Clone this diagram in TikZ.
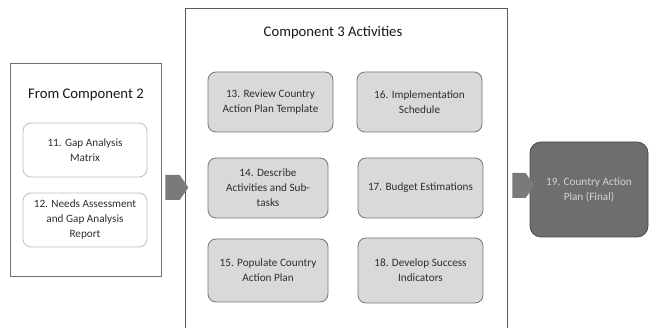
\documentclass[tikz,border=0pt]{standalone}
\usepackage{fontspec}
\setmainfont{Carlito}
\usetikzlibrary{shapes.symbols}
\definecolor{framec}{HTML}{6F6F6F}
\definecolor{midframec}{HTML}{595959}
\definecolor{lightfill}{HTML}{D9D9D9}
\definecolor{boxline}{HTML}{767676}
\definecolor{paleline}{HTML}{BFBFBF}
\definecolor{textc}{HTML}{2E2E2E}
\definecolor{arrowc}{HTML}{7A7A7A}
\definecolor{darkfill}{HTML}{6E6E6E}
\definecolor{darkline}{HTML}{4A4A4A}
\definecolor{lighttext}{HTML}{D4D4D4}
\tikzset{
  frame/.style={draw=framec, line width=0.9pt, fill=white, inner sep=0pt},
  titletext/.style={font=\fontsize{14.7}{17}\selectfont, text=black!90, inner sep=0pt},
  palebox/.style={draw=paleline, line width=0.8pt, fill=white, rounded corners=8pt,
    inner sep=0pt, align=center, text=textc, font=\fontsize{11.2}{15}\selectfont},
  greybox/.style={draw=boxline, line width=0.8pt, fill=lightfill, rounded corners=8pt,
    inner sep=0pt, align=center, text=textc, font=\fontsize{11.2}{15}\selectfont},
  finalbox/.style={draw=darkline, line width=0.8pt, fill=darkfill, rounded corners=11pt,
    inner sep=0pt, align=center, text=lighttext, font=\fontsize{11.2}{15}\selectfont},
  chevron/.style={shape=signal, signal to=east, signal pointer angle=110, fill=arrowc,
    draw=none, inner sep=0pt},
}
\begin{document}
\begin{tikzpicture}[x=1pt,y=1pt]
\useasboundingbox (0,0) rectangle (650,-328);
% left frame
\node[frame, minimum width=151, minimum height=213] (left) at (85.5,-169.5) {};
\node[titletext] (lefttitle) at (86,-95) {From Component 2};
\node[palebox, minimum width=124, minimum height=54] (b11) at (85,-150) {11. Gap Analysis\\Matrix};
\node[palebox, minimum width=124, minimum height=54] (b12) at (85,-220) {12. Needs Assessment\\and Gap Analysis\\Report};
% middle frame
\begin{scope}
\clip (0,0) rectangle (650,-328);
\node[frame, draw=midframec, minimum width=322, minimum height=340, anchor=north west] (mid) at (185,-8) {};
\end{scope}
\node[titletext] (midtitle) at (333,-33) {Component 3 Activities};
\node[greybox, minimum width=125, minimum height=60] (b13) at (270.5,-102) {13. Review Country\\Action Plan Template};
\node[greybox, minimum width=125, minimum height=60] (b16) at (419.5,-102) {16. Implementation\\Schedule};
\node[greybox, minimum width=120, minimum height=60] (b14) at (268,-188) {14. Describe\\Activities and Sub-\\tasks};
\node[greybox, minimum width=125, minimum height=60] (b17) at (420.5,-188) {17. Budget Estimations};
\node[greybox, minimum width=120, minimum height=63] (b15) at (268,-270.5) {15. Populate Country\\Action Plan};
\node[greybox, minimum width=125, minimum height=65] (b18) at (420.5,-270.5) {18. Develop Success\\Indicators};
% final box
\node[finalbox, minimum width=118, minimum height=95] (b19) at (589,-189.5) {19. Country Action\\Plan (Final)};
% chevrons
\node[chevron, minimum width=23, minimum height=25] (a1) at (172.5,-187.5) {};
\node[chevron, minimum width=22, minimum height=25] (a2) at (519,-185.5) {};
\end{tikzpicture}
\end{document}
